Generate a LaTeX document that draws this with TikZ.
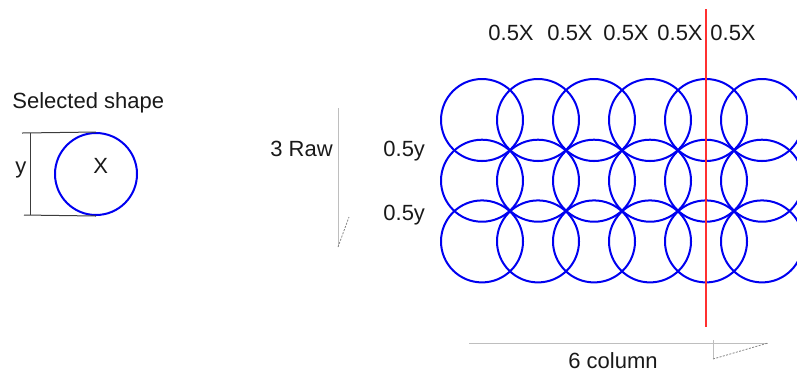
\documentclass[tikz,border=0pt]{standalone}
\usepackage{fontspec}
\setmainfont{Liberation Sans}
\usetikzlibrary{positioning, calc}
\definecolor{shpblue}{HTML}{0000F0}
\definecolor{shpred}{HTML}{FF3030}
\definecolor{shpgray}{HTML}{BEBEBE}
\definecolor{shpdark}{HTML}{3C3C3C}
\tikzset{
  lbl/.style={font=\fontsize{11}{13}\selectfont, inner sep=0pt, anchor=base west, text=black!90},
  ring/.style={draw=shpblue, line width=1pt},
  dimline/.style={draw=shpdark, line width=0.5pt},
  guide/.style={draw=shpgray, line width=0.5pt},
  guidedash/.style={draw=shpgray!70!black, line width=0.4pt, dash pattern=on 1pt off 0.7pt},
  cutline/.style={draw=shpred, line width=0.6pt},
}

\begin{document}
\begin{tikzpicture}[x=0.5pt, y=-0.5pt]
    \useasboundingbox (0,0) rectangle (797,372);
    % selected shape with its height
    \node[lbl] (sel) at (12,108) {Selected shape};
    \node[circle, ring, minimum size=41pt, inner sep=0pt] (shape) at (96,174) {};
    \node[lbl] (shx) at (93,173) {X};
    \node[lbl] (shy) at (15,173) {y};
    \coordinate (ytopl) at (22,133);
    \coordinate (ybotl) at (24,215);
    \draw[dimline] (ytopl) -- (shape.north);
    \draw[dimline] (ybotl) -- (shape.south);
    \draw[dimline] (30,133) -- (30,215);
    % rows
    \node[lbl] (raw) at (270,156) {3 Raw};
    \coordinate (rawtop) at (338,108);
    \coordinate (rawbot) at (338,247);
    \coordinate (rawtip) at (349,217);
    \draw[guide] (rawtop) -- (rawbot);
    \draw[guidedash] (rawbot) -- (rawtip);
    \node[lbl] (hy1) at (383,156) {0.5y};
    \node[lbl] (hy2) at (383,220) {0.5y};
    % columns
    \node[lbl] (hx1) at (488,40) {0.5X};
    \node[lbl] (hx2) at (547,40) {0.5X};
    \node[lbl] (hx3) at (603,40) {0.5X};
    \node[lbl] (hx4) at (657,40) {0.5X};
    \node[lbl] (hx5) at (710,40) {0.5X};
    % grid of shapes
    \foreach \r in {0,1,2}
      \foreach \c in {0,...,5}
        \draw[ring] (482+56*\c, 120+60.7*\r) circle[radius=20.5pt];
    \coordinate (cuttop) at (706,9);
    \coordinate (cutbot) at (706,327);
    \draw[cutline] (cuttop) -- (cutbot);
    % column count
    \coordinate (colleft) at (469,343);
    \coordinate (colright) at (768,343);
    \coordinate (coltick) at (713,340);
    \coordinate (colfoot) at (713,359);
    \draw[guide] (colleft) -- (colright);
    \draw[guide] (coltick) -- (colfoot);
    \draw[guidedash] (colfoot) -- (colright);
    \node[lbl] (cols) at (568,368) {6 column};
\end{tikzpicture}
\end{document}
